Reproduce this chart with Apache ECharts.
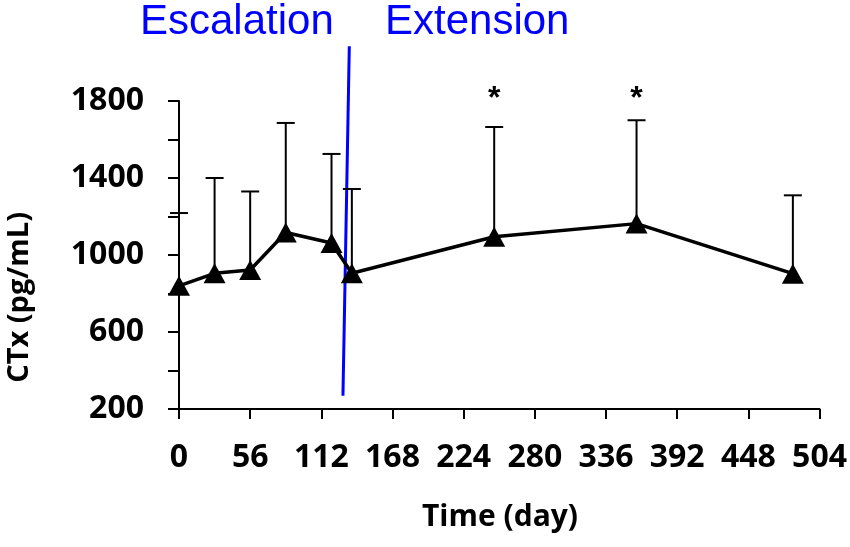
<!DOCTYPE html>
<html>
<head>
<meta charset="utf-8">
<script src="https://cdn.jsdelivr.net/npm/echarts@6/dist/echarts.min.js"></script>
<style>
  html, body { margin: 0; padding: 0; background: #fff; }
  #chart { width: 850px; height: 547px; }
</style>
</head>
<body>
<div id="chart"></div>
<script>
// Study day of each visit and mean CTx (pg/mL) with upper error limit
const days = [0, 28, 56, 84, 120, 136, 248, 360, 483];
const ctxMean = [840, 905, 922, 1117, 1062, 905, 1095, 1163, 903];
const ctxUpper = [1218, 1400, 1330, 1686, 1525, 1343, 1665, 1700, 1310];
// Visits marked as significant (asterisk drawn above)
const significant = [false, false, false, false, false, false, true, true, false];
const starLevel = 1812;

// Boundary between the escalation and extension phases (drawn slightly slanted)
const phaseLine = [134, 2084, 129, 269];
const phaseLabels = ['Escalation', 'Extension'];

// Axis settings
const xMin = 0, xMax = 504, xStep = 56;
const yMin = 200, yMax = 1800, yStep = 200, yLabelStep = 400;

const labelFont = '"Open Sans", "DejaVu Sans", sans-serif';

const chart = echarts.init(document.getElementById('chart'), null, { renderer: 'canvas' });

const lineData = days.map((d, i) => [d, ctxMean[i]]);
const errData = days.map((d, i) => [d, ctxMean[i], ctxUpper[i]]);
const starData = days.map((d, i) => significant[i] ? [d, starLevel] : null).filter(Boolean);

chart.setOption({
  animation: false,
  backgroundColor: '#ffffff',
  grid: { left: 179, right: 28, top: 101, bottom: 138, containLabel: false },
  xAxis: {
    type: 'value',
    min: xMin, max: xMax, interval: xStep,
    axisLine: { show: true, onZero: false, lineStyle: { color: '#000', width: 2 } },
    axisTick: { show: true, inside: false, length: 10, lineStyle: { color: '#000', width: 2 } },
    axisLabel: { margin: 33, color: '#000', fontFamily: labelFont, fontWeight: 'bold', fontSize: 32 },
    splitLine: { show: false }
  },
  yAxis: {
    type: 'value',
    min: yMin, max: yMax, interval: yStep,
    axisLine: { show: true, onZero: false, lineStyle: { color: '#000', width: 2 } },
    axisTick: { show: true, inside: false, length: 11, lineStyle: { color: '#000', width: 2 } },
    axisLabel: {
      margin: 35, color: '#000', fontFamily: labelFont, fontWeight: 'bold', fontSize: 32,
      formatter: v => ((v - yMin) % yLabelStep === 0 ? String(v) : '')
    },
    splitLine: { show: false }
  },
  graphic: [
    { type: 'text', left: 140, top: 1,
      style: { text: phaseLabels[0], fill: '#0000ff', font: '42px "Liberation Sans", Arial, sans-serif' } },
    { type: 'text', left: 385, top: 1,
      style: { text: phaseLabels[1], fill: '#0000ff', font: '42px "Liberation Sans", Arial, sans-serif' } },
    { type: 'text', left: 422, top: 502,
      style: { text: 'Time (day)', fill: '#000', font: 'bold 30px ' + labelFont } },
    { type: 'text', left: 5, top: 212, rotation: Math.PI / 2, originX: 0, originY: 0,
      style: { text: 'CTx (pg/mL)', fill: '#000', font: 'bold 29px ' + labelFont } }
  ],
  series: [
    {
      // upper error bars
      type: 'custom',
      z: 2,
      clip: false,
      data: errData,
      encode: { x: 0, y: [1, 2] },
      renderItem: function (params, api) {
        const base = api.coord([api.value(0), api.value(1)]);
        const top = api.coord([api.value(0), api.value(2)]);
        const half = 9;
        const style = { stroke: '#000', lineWidth: 2 };
        return {
          type: 'group',
          children: [
            { type: 'line', shape: { x1: base[0], y1: base[1], x2: top[0], y2: top[1] }, style: style },
            { type: 'line', shape: { x1: top[0] - half, y1: top[1], x2: top[0] + half, y2: top[1] }, style: style }
          ]
        };
      }
    },
    {
      type: 'line',
      z: 3,
      data: lineData,
      symbol: 'triangle',
      symbolSize: [22, 20],
      itemStyle: { color: '#000' },
      lineStyle: { color: '#000', width: 3.5 }
    },
    {
      // significance markers
      type: 'custom',
      z: 4,
      clip: false,
      data: starData,
      encode: { x: 0, y: 1 },
      renderItem: function (params, api) {
        const p = api.coord([api.value(0), api.value(1)]);
        return {
          type: 'text',
          x: p[0], y: p[1],
          style: { text: '*', fill: '#000', font: 'bold 32px "Liberation Sans", Arial, sans-serif',
                   align: 'center', verticalAlign: 'middle' }
        };
      }
    },
    {
      // phase boundary
      type: 'custom',
      z: 1,
      clip: false,
      data: [phaseLine],
      encode: { x: [0, 2], y: [1, 3] },
      renderItem: function (params, api) {
        const a = api.coord([api.value(0), api.value(1)]);
        const b = api.coord([api.value(2), api.value(3)]);
        return {
          type: 'line',
          shape: { x1: a[0], y1: a[1], x2: b[0], y2: b[1] },
          style: { stroke: '#0000ff', lineWidth: 3 }
        };
      }
    }
  ]
});
</script>
</body>
</html>
